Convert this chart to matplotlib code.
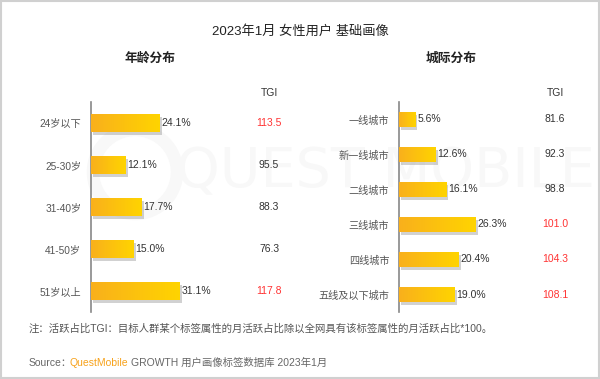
import matplotlib
matplotlib.use("Agg")
import matplotlib.pyplot as plt
import matplotlib.patheffects as pe
from matplotlib.colors import LinearSegmentedColormap
from matplotlib.patches import Rectangle, Circle
import numpy as np

plt.rcParams['font.family'] = ['Liberation Sans', 'Noto Sans CJK SC']

# data
age_labels = ['24岁以下', '25-30岁', '31-40岁', '41-50岁', '51岁以上']
age_share = [24.1, 12.1, 17.7, 15.0, 31.1]
age_tgi = [113.5, 95.5, 88.3, 76.3, 117.8]

city_labels = ['一线城市', '新一线城市', '二线城市', '三线城市', '四线城市', '五线及以下城市']
city_share = [5.6, 12.6, 16.1, 26.3, 20.4, 19.0]
city_tgi = [81.6, 92.3, 98.8, 101.0, 104.3, 108.1]

W, H = 600, 379
fig = plt.figure(figsize=(W / 100, H / 100), dpi=100)
fig.patch.set_facecolor('white')

grad = LinearSegmentedColormap.from_list('g', ['#f9b01c', '#ffd400'])


def px_axes(x0, y0, x1, y1, **kw):
    # pixel box (top-left origin) -> figure axes
    return fig.add_axes([x0 / W, 1 - y1 / H, (x1 - x0) / W, (y1 - y0) / H], **kw)


def draw_panel(ax, labels, shares, tgis, xmax, tgi_x, head_y):
    n = len(labels)
    y = np.arange(n)
    ax.set_xlim(0, xmax)
    ax.set_ylim(n - 0.5, -0.5)
    bars = ax.barh(y, shares, height=0.44, color='#fbbf1a', zorder=3)
    g = np.linspace(0, 1, 256).reshape(1, -1)
    for b in bars:
        b.set_path_effects([pe.SimplePatchShadow(offset=(1.5, -2), shadow_rgbFace='#999999', alpha=0.45),
                            pe.Normal()])
        x0, yb = b.get_x(), b.get_y()
        im = ax.imshow(g, cmap=grad, aspect='auto', zorder=4,
                       extent=(x0, x0 + b.get_width(), yb + b.get_height(), yb))
        im.set_clip_path(b)
    for i, (v, t) in enumerate(zip(shares, tgis)):
        ax.text(v + 0.6, i, f'{v:.1f}%', va='center', ha='left', fontsize=7.5, color='#333333', zorder=5)
        ax.text(tgi_x, i, f'{t:.1f}', va='center', ha='center', fontsize=7.5,
                color='#ff3333' if t > 100 else '#333333',
                transform=ax.get_yaxis_transform(), zorder=5)
    ax.text(tgi_x, head_y, 'TGI', va='center', ha='center', fontsize=7.5, color='#333333',
            transform=ax.get_yaxis_transform(), clip_on=False)
    ax.set_yticks(y)
    ax.set_yticklabels(labels, fontsize=7.3, color='#555555')
    ax.tick_params(axis='y', length=0, pad=7)
    ax.set_xticks([])
    for s in ['top', 'right', 'bottom']:
        ax.spines[s].set_visible(False)
    ax.spines['left'].set_color('#888888')
    ax.spines['left'].set_linewidth(1.2)
    ax.patch.set_alpha(0)


# background layer with very faint watermark
bg = fig.add_axes([0, 0, 1, 1], zorder=-1)
bg.set_xlim(0, W)
bg.set_ylim(H, 0)
bg.axis('off')
bg.text(385, 172, 'QUEST MOBILE', fontsize=40, color='#f8f8f8',
        ha='center', va='center', family='DejaVu Sans')
bg.add_patch(Circle((135, 172), 42, fill=False, ec='#f8f8f8', lw=9))
bg.add_patch(Rectangle((1, 1), W - 2, H - 2, fill=False, ec='#d0d0d0', lw=1.5))

ax1 = px_axes(91, 102, 291, 312)
draw_panel(ax1, age_labels, age_share, age_tgi, 200 / 2.86, 0.89, -0.71)

ax2 = px_axes(399, 102, 599, 312)
draw_panel(ax2, city_labels, city_share, city_tgi, 200 / 2.92, 0.78, -0.76)

fig.text(0.5, 1 - 31 / H, '2023年1月 女性用户 基础画像', ha='center', va='center',
         fontsize=9.5, color='#222222')
fig.text(150 / W, 1 - 59 / H, '年龄分布', ha='center', va='center', fontsize=9.2,
         color='#222222', fontweight='bold')
fig.text(451 / W, 1 - 59 / H, '城际分布', ha='center', va='center', fontsize=9.2,
         color='#222222', fontweight='bold')

fig.text(29 / W, 1 - 329 / H, '注：活跃占比TGI：目标人群某个标签属性的月活跃占比除以全网具有该标签属性的月活跃占比*100。',
         ha='left', va='center', fontsize=7.5, color='#555555')
fig.text(29 / W, 1 - 363 / H, 'Source：', ha='left', va='center', fontsize=7.5, color='#666666')
fig.text(70 / W, 1 - 363 / H, 'QuestMobile', ha='left', va='center', fontsize=7.5, color='#f7a21b')
fig.text(131 / W, 1 - 363 / H, 'GROWTH 用户画像标签数据库 2023年1月', ha='left', va='center',
         fontsize=7.5, color='#666666')

fig.savefig('out.png', dpi=100)
